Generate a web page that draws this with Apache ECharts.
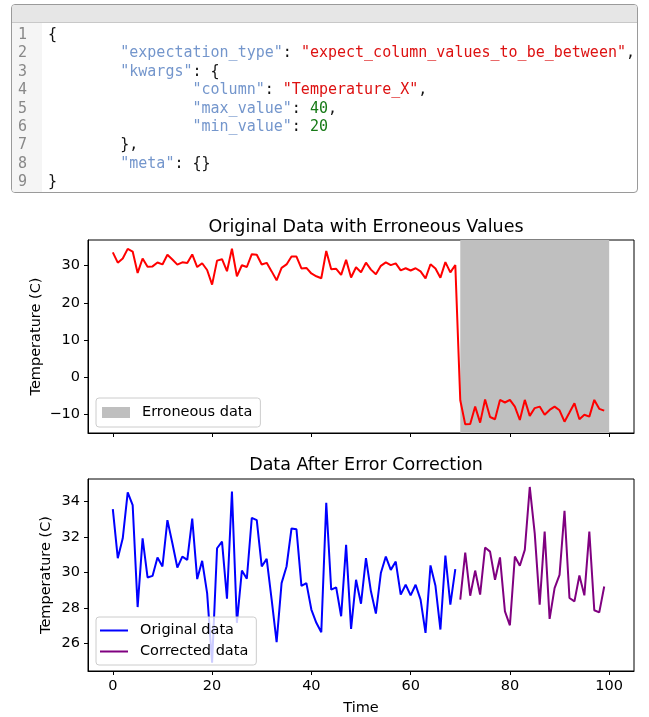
<!DOCTYPE html>
<html>
<head>
<meta charset="utf-8">
<title>Temperature expectation</title>
<script src="https://cdn.jsdelivr.net/npm/echarts@6.0.0/dist/echarts.min.js"></script>
<style>
  html, body { margin: 0; padding: 0; background: #fff; }
  #main { position: absolute; left: 0; top: 0; width: 649px; height: 717px; }
  .code-box {
    position: absolute; left: 11px; top: 4px; width: 627px; height: 189px;
    box-sizing: border-box; border: 1px solid #9a9a9a; border-radius: 4px;
    overflow: hidden; background: #fff;
  }
  .code-head { height: 17px; background: #e6e6e6; border-bottom: 1px solid #c8c8c8; }
  .code-body { display: flex; }
  .code-body pre {
    margin: 0; padding-top: 2px; font-family: "DejaVu Sans Mono", monospace;
    font-size: 15px; line-height: 18.4px; white-space: pre;
  }
  .gutter { width: 30px; background: #f5f5f5; color: #888; padding-left: 6px; box-sizing: border-box; height: 170px; }
  .src { padding-left: 6px; color: #111; }
  .k { color: #7496cc; }
  .s { color: #dd1111; }
  .n { color: #177a17; }
</style>
</head>
<body>
<div id="main"></div>
<div class="code-box">
  <div class="code-head"></div>
  <div class="code-body">
<pre class="gutter">1
2
3
4
5
6
7
8
9</pre>
<pre class="src">{
        <span class="k">"expectation_type"</span>: <span class="s">"expect_column_values_to_be_between"</span>,
        <span class="k">"kwargs"</span>: {
                <span class="k">"column"</span>: <span class="s">"Temperature_X"</span>,
                <span class="k">"max_value"</span>: <span class="n">40</span>,
                <span class="k">"min_value"</span>: <span class="n">20</span>
        },
        <span class="k">"meta"</span>: {}
}</pre>
  </div>
</div>
<script>
// readings t = 0..69 (good sensor values)
var originalTemps = [
  33.57, 30.8, 31.92, 34.52, 33.79, 28.04, 31.92, 29.71, 29.8, 30.84,
  30.33, 32.95, 31.64, 30.27, 30.89, 30.7, 33.03, 29.62, 30.65, 28.83,
  24.9, 31.36, 31.73, 28.51, 34.56, 27.15, 30.1, 29.64, 33.08, 32.95,
  30.33, 30.76, 28.46, 26.06, 29.39, 30.33, 32.48, 32.43, 29.24, 29.39,
  27.9, 27.15, 26.62, 33.93, 29.02, 29.15, 27.52, 31.55, 26.81, 29.58,
  28.23, 30.8, 28.93, 27.67, 29.96, 30.89, 30.14, 30.61, 28.74, 29.3,
  28.7, 29.3, 28.46, 26.58, 30.39, 29.24, 26.77, 30.95, 28.18, 30.18
]
// readings t = 70..99 as recorded (broken)
var erroneousTemps = [
  -6.2, -12.67, -12.6, -7.9, -12.2, -6.0, -10.7, -11.3, -6.1, -6.8,
  -6.1, -7.9, -11.5, -6.1, -10.4, -8.3, -7.9, -10.1, -8.8, -7.9,
  -8.9, -11.95, -9.5, -7.0, -11.3, -10.1, -10.6, -6.1, -8.5, -9.0
]
// readings t = 70..99 after correction
var correctedTemps = [
  28.46, 31.12, 28.68, 30.1, 28.74, 31.4, 31.17, 29.58, 30.84, 27.8,
  27.01, 30.89, 30.37, 31.27, 34.82, 32.2, 28.18, 32.3, 27.37, 29.11,
  29.86, 33.48, 28.55, 28.36, 29.82, 28.7, 32.3, 27.86, 27.74, 29.2
]
var errorSpan = [70, 100]
var xTicks = [0, 20, 40, 60, 80, 100]
var y1Ticks = [-10, 0, 10, 20, 30]
var y2Ticks = [26, 28, 30, 32, 34]

var FONT = 'DejaVu Sans'
var errStart = originalTemps.length

function pairs(values, offset) {
  return values.map(function(v, i) { return [i + offset, v] })
}
function minusFmt(v) {
  return v < 0 ? '\u2212' + Math.abs(v) : String(v)
}

var myChart = echarts.init(document.getElementById('main'))

var axisCommon = {
  type: 'value',
  nameMoveOverlap: false,
  axisLine: { show: true, onZero: false, lineStyle: { color: '#000', width: 1 } },
  axisTick: { show: true, length: 4, lineStyle: { color: '#000', width: 1 } },
  splitLine: { show: false },
  axisLabel: { color: '#000', fontFamily: FONT, fontSize: 14.5, margin: 8 },
  nameTextStyle: { color: '#000', fontFamily: FONT, fontSize: 14.5 }
}

var legendCommon = {
  orient: 'vertical',
  left: 96,
  backgroundColor: 'rgba(255,255,255,0.8)',
  borderColor: '#cccccc',
  borderWidth: 1,
  borderRadius: 3,
  itemWidth: 28,
  selectedMode: false,
  textStyle: { color: '#000', fontFamily: FONT, fontSize: 14.5, padding: [0, 0, 0, 7] }
}

var titleStyle = { color: '#000', fontFamily: FONT, fontSize: 17.5, fontWeight: 'normal' }

var option = {
  animation: false,
  backgroundColor: 'transparent',
  title: [
    { text: 'Original Data with Erroneous Values', left: 361, top: 213, textAlign: 'center', textStyle: titleStyle },
    { text: 'Data After Error Correction', left: 361, top: 451, textAlign: 'center', textStyle: titleStyle }
  ],
  grid: [
    { left: 88, top: 240, width: 546, height: 193, show: true, borderColor: '#000', borderWidth: 1, backgroundColor: 'transparent' },
    { left: 88, top: 479, width: 546, height: 192, show: true, borderColor: '#000', borderWidth: 1, backgroundColor: 'transparent' }
  ],
  xAxis: [
    echarts.util.merge({
      gridIndex: 0, min: -5, max: 105,
      axisTick: { customValues: xTicks },
      axisLabel: { show: false, customValues: xTicks }
    }, axisCommon),
    echarts.util.merge({
      gridIndex: 1, min: -5, max: 105,
      name: 'Time', nameLocation: 'middle', nameGap: 30,
      axisTick: { customValues: xTicks },
      axisLabel: { customValues: xTicks }
    }, axisCommon)
  ],
  yAxis: [
    echarts.util.merge({
      gridIndex: 0, min: -15, max: 36.9,
      name: 'Temperature (C)', nameLocation: 'middle', nameGap: 44,
      axisTick: { customValues: y1Ticks },
      axisLabel: { customValues: y1Ticks, formatter: minusFmt }
    }, axisCommon),
    echarts.util.merge({
      gridIndex: 1, min: 24.43, max: 35.27,
      name: 'Temperature (C)', nameLocation: 'middle', nameGap: 34,
      axisTick: { customValues: y2Ticks },
      axisLabel: { customValues: y2Ticks }
    }, axisCommon)
  ],
  legend: [
    echarts.util.merge({
      top: 398,
      padding: [7, 8, 7, 6],
      itemHeight: 11,
      data: [{ name: 'Erroneous data', icon: 'rect', itemStyle: { color: '#bfbfbf', borderWidth: 0 } }]
    }, legendCommon),
    echarts.util.merge({
      top: 617,
      padding: [6, 8, 6, 4],
      itemHeight: 2,
      itemGap: 6,
      data: [
        { name: 'Original data', icon: 'rect', itemStyle: { color: '#0000ff', borderWidth: 0 } },
        { name: 'Corrected data', icon: 'rect', itemStyle: { color: '#800080', borderWidth: 0 } }
      ]
    }, legendCommon)
  ],
  series: [
    {
      // grey band marking the bad readings
      name: 'Erroneous data',
      type: 'line',
      xAxisIndex: 0,
      yAxisIndex: 0,
      z: 1,
      data: [],
      itemStyle: { color: '#bfbfbf' },
      markArea: {
        silent: true,
        itemStyle: { color: '#bfbfbf' },
        data: [[{ xAxis: errorSpan[0] }, { xAxis: errorSpan[1] }]]
      }
    },
    {
      name: 'Raw data',
      type: 'line',
      xAxisIndex: 0,
      yAxisIndex: 0,
      z: 3,
      symbol: 'none',
      lineStyle: { color: '#ff0000', width: 2 },
      itemStyle: { color: '#ff0000' },
      data: pairs(originalTemps.concat(erroneousTemps), 0)
    },
    {
      name: 'Original data',
      type: 'line',
      xAxisIndex: 1,
      yAxisIndex: 1,
      symbol: 'none',
      lineStyle: { color: '#0000ff', width: 2 },
      itemStyle: { color: '#0000ff' },
      data: pairs(originalTemps, 0)
    },
    {
      name: 'Corrected data',
      type: 'line',
      xAxisIndex: 1,
      yAxisIndex: 1,
      symbol: 'none',
      lineStyle: { color: '#800080', width: 2 },
      itemStyle: { color: '#800080' },
      data: pairs(correctedTemps, errStart)
    }
  ]
}

myChart.setOption(option)
</script>
</body>
</html>
